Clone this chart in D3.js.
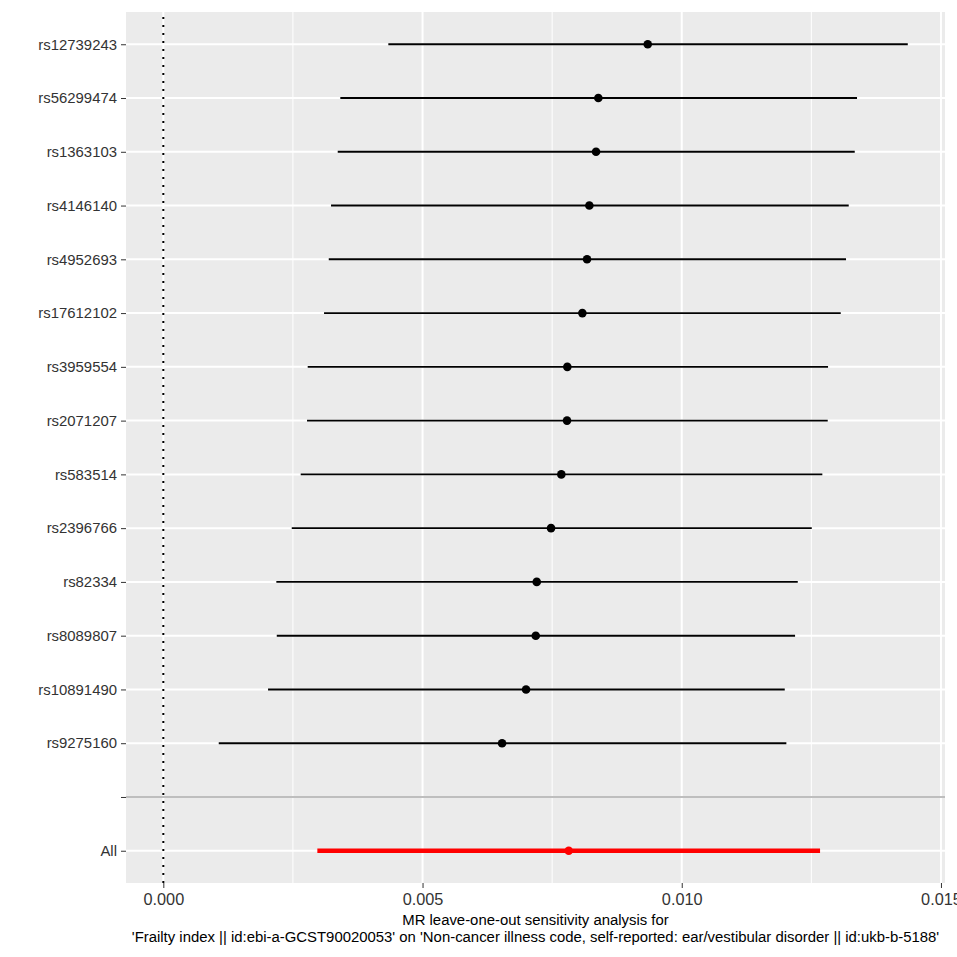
<!DOCTYPE html>
<html>
<head>
<meta charset="utf-8">
<script src="https://cdn.jsdelivr.net/npm/d3@7"></script>
<style>
  html, body { margin: 0; padding: 0; background: #fff; }
  svg { display: block; font-family: "Liberation Sans", Arial, sans-serif; }
</style>
</head>
<body>
<svg id="chart" width="957" height="957"></svg>
<script>
// ---- data ----
const snps = ["rs12739243","rs56299474","rs1363103","rs4146140","rs4952693","rs17612102",
  "rs3959554","rs2071207","rs583514","rs2396766","rs82334","rs8089807","rs10891490","rs9275160"];
const beta = [0.009344,0.008391,0.008347,0.008218,0.008173,0.008083,
  0.007793,0.007787,0.007677,0.007479,0.007203,0.007184,0.006997,0.006534];
const lower = [0.004340,0.003414,0.003364,0.003235,0.003191,0.003100,
  0.002785,0.002772,0.002650,0.002477,0.002180,0.002188,0.002020,0.001069];
const upper = [0.014360,0.013381,0.013337,0.013221,0.013169,0.013067,
  0.012822,0.012816,0.012712,0.012508,0.012238,0.012186,0.011987,0.012018];
const allLabel = "All";
const allBeta = 0.007820;
const allLower = 0.002971;
const allUpper = 0.012668;
const xTicks = [0, 0.005, 0.010, 0.015];
const xTickLabels = ["0.000","0.005","0.010","0.015"];
const xMinor = [0.0025, 0.0075, 0.0125];
const titleLine1 = "MR leave-one-out sensitivity analysis for";
const titleLine2 = "'Frailty index || id:ebi-a-GCST90020053' on 'Non-cancer illness code, self-reported: ear/vestibular disorder || id:ukb-b-5188'";

// ---- layout ----
const panel = {left: 126, right: 945, top: 12, bottom: 883};
const svg = d3.select("#chart");

const categories = snps.concat(["", allLabel]);
const rows = snps.map((s, i) => ({snp: s, b: beta[i], lo: lower[i], up: upper[i]}));
const allRow = {snp: allLabel, b: allBeta, lo: allLower, up: allUpper};

const x = d3.scaleLinear().domain([-0.00072, 0.015078]).range([panel.left, panel.right]);
const y = d3.scalePoint().domain(categories).range([panel.top, panel.bottom]).padding(0.6);

// panel background
svg.append("rect")
  .attr("x", panel.left).attr("y", panel.top)
  .attr("width", panel.right - panel.left).attr("height", panel.bottom - panel.top)
  .attr("fill", "#EBEBEB");

// minor gridlines
svg.append("g").selectAll("line").data(xMinor).join("line")
  .attr("x1", d => x(d)).attr("x2", d => x(d))
  .attr("y1", panel.top).attr("y2", panel.bottom)
  .attr("stroke", "#fff").attr("stroke-width", 1);

// major gridlines
svg.append("g").selectAll("line").data(xTicks).join("line")
  .attr("x1", d => x(d)).attr("x2", d => x(d))
  .attr("y1", panel.top).attr("y2", panel.bottom)
  .attr("stroke", "#fff").attr("stroke-width", 2);
svg.append("g").selectAll("line").data(categories).join("line")
  .attr("x1", panel.left).attr("x2", panel.right)
  .attr("y1", d => y(d)).attr("y2", d => y(d))
  .attr("stroke", "#fff").attr("stroke-width", 2);

// grey separator at blank row
svg.append("line")
  .attr("x1", panel.left).attr("x2", panel.right)
  .attr("y1", y("")).attr("y2", y(""))
  .attr("stroke", "#A8A8A8").attr("stroke-width", 1.6);

// dotted vertical line at 0
svg.append("line")
  .attr("x1", x(0)).attr("x2", x(0))
  .attr("y1", panel.bottom).attr("y2", panel.top)
  .attr("stroke", "#000").attr("stroke-width", 2)
  .attr("stroke-dasharray", "2,6");

// error bars
svg.append("g").selectAll("line").data(rows).join("line")
  .attr("x1", d => x(d.lo)).attr("x2", d => x(d.up))
  .attr("y1", d => y(d.snp)).attr("y2", d => y(d.snp))
  .attr("stroke", "#000").attr("stroke-width", 1.9);
svg.append("g").selectAll("circle").data(rows).join("circle")
  .attr("cx", d => x(d.b)).attr("cy", d => y(d.snp)).attr("r", 4.3)
  .attr("fill", "#000");

// overall estimate
svg.append("line")
  .attr("x1", x(allRow.lo)).attr("x2", x(allRow.up))
  .attr("y1", y(allRow.snp)).attr("y2", y(allRow.snp))
  .attr("stroke", "#FF0000").attr("stroke-width", 4.5);
svg.append("circle")
  .attr("cx", x(allRow.b)).attr("cy", y(allRow.snp)).attr("r", 4.3)
  .attr("fill", "#FF0000");

// y axis
const yAxis = d3.axisLeft(y).tickSize(5).tickPadding(4);
const gy = svg.append("g").attr("transform", `translate(${panel.left},0)`).call(yAxis);
gy.select(".domain").remove();
gy.selectAll(".tick line").attr("stroke", "#333").attr("stroke-width", 1);
gy.selectAll(".tick text").attr("fill", "#333").attr("font-size", "14.9px")
  .attr("font-family", "Liberation Sans, Arial, sans-serif");

// x axis
const xAxis = d3.axisBottom(x).tickValues(xTicks).tickFormat((d, i) => xTickLabels[i])
  .tickSize(5).tickPadding(5);
const gx = svg.append("g").attr("transform", `translate(0,${panel.bottom})`).call(xAxis);
gx.select(".domain").remove();
gx.selectAll(".tick line").attr("stroke", "#333").attr("stroke-width", 1);
gx.selectAll(".tick text").attr("fill", "#333").attr("font-size", "16.3px")
  .attr("font-family", "Liberation Sans, Arial, sans-serif");

// axis title
const cx = (panel.left + panel.right) / 2;
svg.append("text").attr("x", cx).attr("y", 925).attr("text-anchor", "middle")
  .attr("font-size", "14.9px").attr("fill", "#000").text(titleLine1);
svg.append("text").attr("x", cx).attr("y", 942).attr("text-anchor", "middle")
  .attr("font-size", "14.9px").attr("fill", "#000").text(titleLine2);
</script>
</body>
</html>
